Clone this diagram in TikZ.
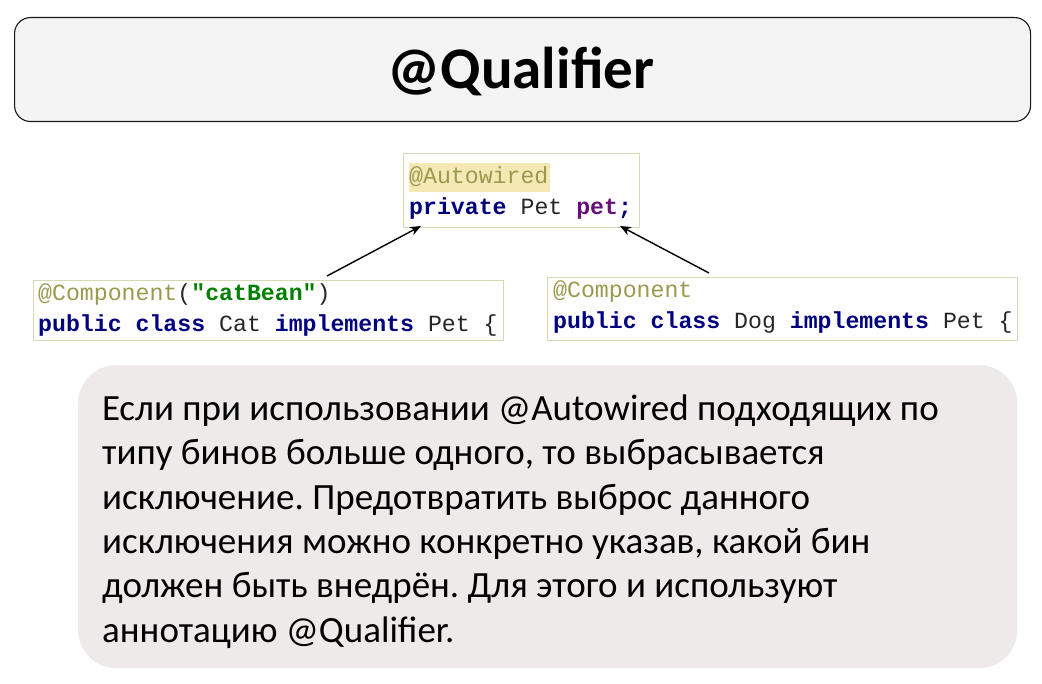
\documentclass[tikz,border=0pt]{standalone}
\usepackage{fontspec}
\setmainfont{Carlito}
\setmonofont{Liberation Mono}
\usetikzlibrary{arrows.meta}
\definecolor{titlefill}{HTML}{F4F4F4}
\definecolor{bodyfill}{HTML}{EEEAEA}
\definecolor{codeborder}{HTML}{D6DAB4}
\definecolor{annot}{HTML}{9A9A4E}
\definecolor{annotbg}{HTML}{F4E8B4}
\definecolor{kw}{HTML}{000080}
\definecolor{fld}{HTML}{660E7A}
\definecolor{strg}{HTML}{008000}
\definecolor{plain}{HTML}{262626}
\newcommand{\kwd}[1]{\textcolor{kw}{\textbf{#1}}}
\tikzset{
  codebox/.style={draw=codeborder, line width=1pt, fill=white, anchor=north west, inner sep=0pt},
  codeline/.style={anchor=base west, inner sep=0pt, font=\ttfamily\fontsize{23.2}{23.2}\selectfont, text=plain},
  link/.style={draw=black, line width=1.4pt, -{Stealth[length=11pt,width=9pt]}}
}
\begin{document}
\frenchspacing
\begin{tikzpicture}[x=1pt,y=-1pt]
\useasboundingbox (0,0) rectangle (1042,684);
\fill[white] (0,0) rectangle (1042,684);
% title
\node[draw=black!90, line width=1.1pt, fill=titlefill, rounded corners=16pt, minimum width=1016pt, minimum height=104pt, anchor=north west, inner sep=0pt] (title) at (14,17) {};
\node[font=\fontsize{59}{59}\selectfont\bfseries, anchor=base] (titletext) at (521,89) {@Qualifier};
% autowired box
\node[codebox, minimum width=236pt, minimum height=74pt] (aw) at (403,153) {};
\fill[annotbg] (409,163) rectangle (550,192);
\node[codeline] (aw1) at (409,184) {\textcolor{annot}{@Autowired}};
\node[codeline] (aw2) at (409,215) {\kwd{private} Pet \textcolor{fld}{\textbf{pet}}\kwd{;}};
% cat box
\node[codebox, minimum width=470pt, minimum height=60pt] (cat) at (33,280) {};
\node[codeline] (cat1) at (38,301) {\textcolor{annot}{@Component}(\textcolor{strg}{\textbf{"catBean"}})};
\node[codeline] (cat2) at (38,332) {\kwd{public} \kwd{class} Cat \kwd{implements} Pet \{};
% dog box
\node[codebox, minimum width=470pt, minimum height=63pt] (dog) at (547,277) {};
\node[codeline] (dog1) at (553,298) {\textcolor{annot}{@Component}};
\node[codeline] (dog2) at (553,329) {\kwd{public} \kwd{class} Dog \kwd{implements} Pet \{};
% arrows
\coordinate (catend) at (327,276);
\coordinate (dogend) at (709,273);
\coordinate (awl) at (421,226);
\coordinate (awr) at (620,226);
\draw[link] (catend) -- (awl);
\draw[link] (dogend) -- (awr);
% body
\node[fill=bodyfill, rounded corners=38pt, minimum width=939pt, minimum height=303pt, anchor=north west, inner sep=0pt] (body) at (78,365) {};
\node[anchor=base west, inner sep=0pt, align=left, font=\fontsize{37}{44.3}\selectfont] (bodytext) at (102,642) {Если при использовании @Autowired подходящих по\\типу бинов больше одного, то выбрасывается\\исключение. Предотвратить выброс данного\\исключения можно конкретно указав, какой бин\\должен быть внедрён. Для этого и используют\\аннотацию @Qualifier.};
\end{tikzpicture}
\end{document}
